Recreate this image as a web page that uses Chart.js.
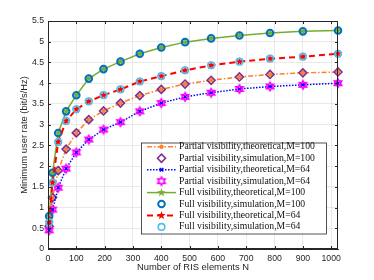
<!DOCTYPE html>
<html>
<head>
<meta charset="utf-8">
<script src="https://cdn.jsdelivr.net/npm/chart.js@4.4.0/dist/chart.umd.min.js"></script>
<style>
  html, body { margin: 0; padding: 0; background: #fff; }
  #wrap { width: 374px; height: 280px; position: relative; }
</style>
</head>
<body>
<div id="wrap"><canvas id="rateChart"></canvas></div>
<script>
// --- data ---
const nElements = [4, 16, 36, 64, 100, 144, 196, 256, 324, 400, 484, 576, 676, 784, 900, 1024];

const partialTheoM100 = [0.55, 1.24, 1.89, 2.41, 2.80, 3.12, 3.33, 3.52, 3.70, 3.85, 3.98, 4.07, 4.15, 4.21, 4.25, 4.27];
const partialSimM100  = [0.55, 1.24, 1.89, 2.41, 2.80, 3.12, 3.33, 3.52, 3.70, 3.85, 3.98, 4.07, 4.15, 4.21, 4.25, 4.27];
const partialTheoM64  = [0.45, 0.95, 1.48, 1.94, 2.33, 2.64, 2.88, 3.06, 3.32, 3.52, 3.67, 3.77, 3.86, 3.92, 3.96, 4.00];
const partialSimM64   = [0.45, 0.95, 1.48, 1.94, 2.33, 2.64, 2.88, 3.06, 3.32, 3.52, 3.67, 3.77, 3.86, 3.92, 3.96, 4.00];
const fullTheoM100    = [0.79, 1.84, 2.80, 3.32, 3.71, 4.11, 4.34, 4.52, 4.71, 4.86, 4.99, 5.08, 5.15, 5.21, 5.25, 5.27];
const fullSimM100     = [0.79, 1.84, 2.80, 3.32, 3.71, 4.11, 4.34, 4.52, 4.71, 4.86, 4.99, 5.08, 5.15, 5.21, 5.25, 5.27];
const fullTheoM64     = [0.64, 1.60, 2.58, 3.09, 3.37, 3.56, 3.71, 3.85, 4.04, 4.17, 4.31, 4.43, 4.52, 4.59, 4.64, 4.71];
const fullSimM64      = [0.64, 1.60, 2.58, 3.09, 3.37, 3.56, 3.71, 3.85, 4.04, 4.17, 4.31, 4.43, 4.52, 4.59, 4.64, 4.71];

const xTicks = [0, 100, 200, 300, 400, 500, 600, 700, 800, 900, 1000];
const yTicks = [0, 0.5, 1, 1.5, 2, 2.5, 3, 3.5, 4, 4.5, 5, 5.5];

const AXIS = '#262626';
const SANS = "'Liberation Sans', Arial, sans-serif";
const SERIF = "'Liberation Serif', 'Times New Roman', serif";

function pts(arr) {
  return nElements.map((n, i) => ({ x: n, y: arr[i] }));
}

// star shaped markers (pentagram / hexagram) drawn into small canvases
function makeStar(points, r, inner, fill, stroke, lw) {
  const size = Math.ceil(2 * r + lw + 2);
  const c = document.createElement('canvas');
  c.width = c.height = size;
  const g = c.getContext('2d');
  const cx = size / 2;
  g.beginPath();
  for (let k = 0; k < 2 * points; k++) {
    const rr = k % 2 ? r * inner : r;
    const a = -Math.PI / 2 + k * Math.PI / points;
    g.lineTo(cx + rr * Math.cos(a), cx + rr * Math.sin(a));
  }
  g.closePath();
  if (fill) { g.fillStyle = fill; g.fill(); }
  if (stroke) { g.strokeStyle = stroke; g.lineWidth = lw; g.stroke(); }
  return c;
}

const greenStar = makeStar(5, 4.5, 0.4, '#77AC30', null, 0);
const redStar = makeStar(5, 4.5, 0.4, '#FF0000', null, 0);
const magentaHex = makeStar(6, 4.2, 0.58, null, '#FF00FF', 1.6);

const datasets = [
  {
    label: 'Partial visibility,theoretical,M=100', data: pts(partialTheoM100),
    borderColor: '#FF7F2A', borderWidth: 1.5, borderDash: [5, 2, 1.5, 2],
    pointStyle: 'circle', pointRadius: 2.2, pointBorderWidth: 0,
    pointBackgroundColor: '#FF7F2A', pointBorderColor: '#FF7F2A', showLine: true
  },
  {
    label: 'Partial visibility,simulation,M=100', data: pts(partialSimM100),
    borderColor: '#7E2F8E', showLine: false,
    pointStyle: 'rectRot', pointRadius: 4, pointBorderWidth: 1.6,
    pointBackgroundColor: 'rgba(0,0,0,0)', pointBorderColor: '#7E2F8E'
  },
  {
    label: 'Partial visibility,theoretical,M=64', data: pts(partialTheoM64),
    borderColor: '#0000FF', borderWidth: 1.5, borderDash: [1.5, 1.5],
    pointStyle: 'crossRot', pointRadius: 2.5, pointBorderWidth: 1.5,
    pointBackgroundColor: '#0000FF', pointBorderColor: '#0000FF', showLine: true
  },
  {
    label: 'Partial visibility,simulation,M=64', data: pts(partialSimM64),
    borderColor: '#FF00FF', showLine: false,
    pointStyle: magentaHex, pointRadius: 4,
    pointBackgroundColor: '#FF00FF', pointBorderColor: '#FF00FF'
  },
  {
    label: 'Full visibility,theoretical,M=100', data: pts(fullTheoM100),
    borderColor: '#77AC30', borderWidth: 1.5,
    pointStyle: greenStar, pointRadius: 4.5,
    pointBackgroundColor: '#77AC30', pointBorderColor: '#77AC30', showLine: true
  },
  {
    label: 'Full visibility,simulation,M=100', data: pts(fullSimM100),
    borderColor: '#0072BD', showLine: false,
    pointStyle: 'circle', pointRadius: 3.3, pointBorderWidth: 2,
    pointBackgroundColor: 'rgba(0,0,0,0)', pointBorderColor: '#0072BD'
  },
  {
    label: 'Full visibility,theoretical,M=64', data: pts(fullTheoM64),
    borderColor: '#FF0000', borderWidth: 2, borderDash: [6, 4],
    pointStyle: redStar, pointRadius: 4.5,
    pointBackgroundColor: '#FF0000', pointBorderColor: '#FF0000', showLine: true
  },
  {
    label: 'Full visibility,simulation,M=64', data: pts(fullSimM64),
    borderColor: '#4DBEEE', showLine: false,
    pointStyle: 'circle', pointRadius: 3.3, pointBorderWidth: 1.6,
    pointBackgroundColor: 'rgba(0,0,0,0)', pointBorderColor: '#4DBEEE'
  }
];
// later entries sit on top, like the original plot order
datasets.forEach((d, i) => { d.order = datasets.length - 1 - i; d.tension = 0; d.clip = false; });

// axes box with inward ticks
const boxPlugin = {
  id: 'axesBox',
  afterDatasetsDraw(chart) {
    const { ctx, chartArea: a, scales: { x, y } } = chart;
    ctx.save();
    ctx.strokeStyle = AXIS;
    ctx.lineWidth = 1;
    ctx.setLineDash([]);
    ctx.strokeRect(a.left + 0.5, a.top + 0.5, a.right - a.left - 1, a.bottom - a.top - 1);
    ctx.beginPath();
    xTicks.forEach(v => {
      const px = Math.round(x.getPixelForValue(v)) + 0.5;
      ctx.moveTo(px, a.bottom); ctx.lineTo(px, a.bottom - 3);
      ctx.moveTo(px, a.top); ctx.lineTo(px, a.top + 3);
    });
    yTicks.forEach(v => {
      const py = Math.round(y.getPixelForValue(v)) + 0.5;
      ctx.moveTo(a.left, py); ctx.lineTo(a.left + 3, py);
      ctx.moveTo(a.right, py); ctx.lineTo(a.right - 3, py);
    });
    ctx.stroke();
    ctx.restore();
  }
};

// MATLAB style legend box inside the axes
const legendPlugin = {
  id: 'boxLegend',
  afterDraw(chart) {
    const ctx = chart.ctx;
    const bx = 141, by = 142.5, bw = 185, bh = 91;
    ctx.save();
    ctx.fillStyle = '#fff';
    ctx.fillRect(bx, by, bw, bh);
    ctx.strokeStyle = AXIS;
    ctx.lineWidth = 0.8;
    ctx.strokeRect(bx + 0.5, by + 0.5, bw, bh);
    chart.data.datasets.forEach((ds, i) => {
      const yy = by + 4.3 + 11.45 * i;
      if (ds.showLine) {
        ctx.setLineDash(ds.borderDash || []);
        ctx.strokeStyle = ds.borderColor;
        ctx.lineWidth = ds.borderWidth;
        ctx.beginPath();
        ctx.moveTo(147, yy); ctx.lineTo(176, yy);
        ctx.stroke();
      }
      ctx.setLineDash([]);
      ctx.fillStyle = ds.pointBackgroundColor;
      ctx.strokeStyle = ds.pointBorderColor;
      ctx.lineWidth = ds.pointBorderWidth || 0;
      Chart.helpers.drawPoint(ctx, {
        pointStyle: ds.pointStyle, radius: ds.pointRadius,
        borderWidth: ds.pointBorderWidth || 0, rotation: 0
      }, 161.5, yy);
      ctx.fillStyle = '#111';
      ctx.font = '9.7px ' + SERIF;
      ctx.textBaseline = 'middle';
      ctx.textAlign = 'left';
      ctx.fillText(ds.label, 179, yy);
    });
    ctx.restore();
  }
};

new Chart(document.getElementById('rateChart'), {
  type: 'line',
  data: { datasets: datasets },
  options: {
    responsive: true,
    maintainAspectRatio: false,
    animation: false,
    devicePixelRatio: 1,
    layout: { padding: { left: 0, right: 36, top: 21, bottom: 0 } },
    plugins: { legend: { display: false }, tooltip: { enabled: false } },
    scales: {
      x: {
        type: 'linear', min: 0, max: 1024,
        afterBuildTicks: s => { s.ticks = xTicks.map(v => ({ value: v })); },
        afterFit: s => { s.height = 31; },
        grid: { color: '#e3e3e3', lineWidth: 0.8, drawTicks: false },
        border: { color: AXIS },
        ticks: { font: { family: SANS, size: 8.7 }, color: AXIS, padding: 4, maxRotation: 0, autoSkip: false,
                 callback: v => String(v) },
        title: { display: true, text: 'Number of RIS elements N', color: AXIS,
                 font: { family: SANS, size: 9.4 }, padding: { top: 0, bottom: 7 } }
      },
      y: {
        type: 'linear', min: 0, max: 5.5,
        afterBuildTicks: s => { s.ticks = yTicks.map(v => ({ value: v })); },
        afterFit: s => { s.width = 48; },
        grid: { color: '#e3e3e3', lineWidth: 0.8, drawTicks: false },
        border: { color: AXIS },
        ticks: { font: { family: SANS, size: 8.7 }, color: AXIS, padding: 4, autoSkip: false,
                 callback: v => String(v) },
        title: { display: true, text: 'Minimum user rate (bit/s/Hz)', color: AXIS,
                 font: { family: SANS, size: 9.4 }, padding: { top: 19, bottom: 0 } }
      }
    }
  },
  plugins: [boxPlugin, legendPlugin]
});
</script>
</body>
</html>
